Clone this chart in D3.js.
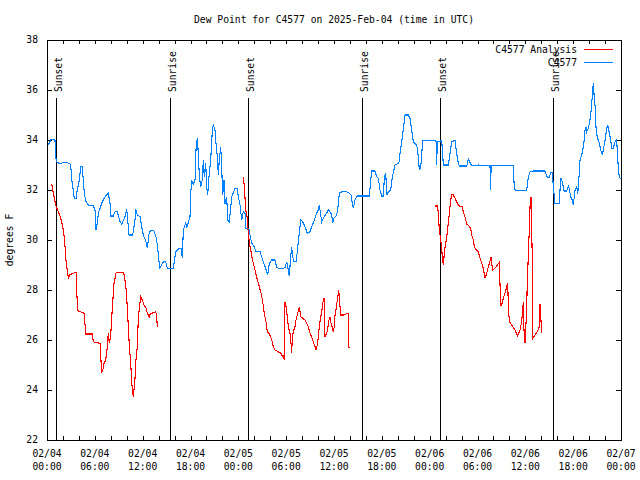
<!DOCTYPE html>
<html><head><meta charset="utf-8">
<script src="https://cdn.jsdelivr.net/npm/d3@7"></script>
<style>
body{margin:0;background:#fff;}
text{font-family:"DejaVu Sans Mono","Liberation Mono",monospace;font-size:9.7px;fill:#000;}
</style></head>
<body><svg id="c" width="640" height="480"></svg>
<script>
const title = "Dew Point for C4577 on 2025-Feb-04 (time in UTC)";
const yLabel = "degrees F";
const seriesNames = ["C4577 Analysis", "C4577"];
const seriesColors = ["#ff0000", "#0080ff"];
// hours since 02/04 00:00 UTC
const blueHours = [0.16,0.50,1.00,1.09,1.22,1.63,2.04,2.47,2.97,3.10,3.30,3.42,3.64,3.73,4.05,4.23,4.43,4.55,4.68,4.85,5.18,5.81,6.02,6.15,6.31,6.44,6.65,6.86,7.06,7.28,7.69,7.90,8.03,8.32,8.53,8.82,9.16,9.37,9.78,10.00,10.12,10.29,10.75,11.04,11.13,11.33,11.67,11.88,12.08,12.42,12.58,12.71,12.83,13.05,13.42,13.67,13.84,14.05,14.17,14.59,14.89,15.09,15.84,16.14,16.56,16.81,16.97,17.10,17.40,17.52,17.94,18.03,18.15,18.35,18.57,18.69,18.85,18.98,19.10,19.28,19.48,19.61,19.73,19.91,20.03,20.16,20.32,20.53,20.74,20.86,21.07,21.20,21.36,21.49,21.61,21.79,21.91,22.04,22.20,22.33,22.54,22.67,22.87,23.04,23.17,23.58,23.87,24.00,24.21,24.42,24.62,24.84,24.96,25.13,25.38,25.46,25.68,25.97,26.22,26.72,27.06,27.35,27.56,27.68,27.89,28.19,28.60,28.81,29.01,29.64,29.85,30.07,30.27,30.39,30.57,30.69,30.82,30.98,31.23,31.40,31.52,31.65,31.82,32.07,32.36,32.65,32.99,33.20,33.53,33.83,34.03,34.16,34.33,34.46,34.75,35.09,35.29,35.50,35.71,35.84,36.00,36.34,36.54,36.67,36.97,37.59,37.92,38.13,38.30,38.42,38.64,38.92,40.43,40.61,40.73,41.14,41.36,41.56,41.77,41.98,42.19,42.31,42.49,42.61,42.81,43.11,43.32,43.65,44.07,44.19,44.28,44.49,44.69,44.91,45.32,45.53,45.75,45.95,46.38,46.58,46.70,46.88,47.13,48.67,48.80,48.88,48.96,49.51,49.64,49.71,50.34,50.55,50.77,51.18,51.39,51.59,51.72,52.65,52.85,53.06,53.27,54.10,55.57,55.66,55.70,58.49,58.62,58.92,60.17,60.38,60.59,61.00,62.47,62.76,63.01,63.18,63.35,63.43,63.51,63.64,63.72,64.26,64.35,64.48,64.64,64.85,65.19,65.39,65.52,65.69,65.89,66.02,66.23,66.45,66.57,66.73,66.86,67.07,67.20,67.36,67.49,67.61,67.70,67.90,68.11,68.24,68.36,68.45,68.53,68.62,68.74,68.87,69.03,69.24,69.46,69.66,69.78,70.00,70.21,70.33,70.50,70.71,70.84,71.04,71.25,71.46,71.59,71.71,71.88,72.00];
const blueValues = [33.8,34.03,34.0,33.33,33.13,33.04,33.1,33.1,33.03,32.4,32.0,31.67,31.64,31.87,32.4,32.93,32.93,32.4,31.87,31.57,31.4,31.36,31.2,30.4,30.67,31.07,31.27,31.47,31.6,31.73,31.87,31.47,30.96,30.96,31.13,31.13,30.73,30.64,30.93,31.23,30.8,30.2,30.2,30.8,31.23,31.0,30.93,30.53,30.2,29.93,29.67,30.0,30.33,30.37,30.37,30.13,29.8,29.13,28.87,29.13,29.13,28.87,28.87,29.53,29.67,29.67,29.27,30.4,30.67,30.47,30.93,31.87,32.4,32.24,32.4,33.6,34.07,33.47,32.6,32.13,32.4,33.2,32.53,33.07,32.13,31.8,32.53,33.2,34.4,34.6,34.4,33.87,33.33,32.6,33.2,33.73,32.93,31.8,32.4,31.44,31.73,30.8,30.73,31.27,31.73,32.07,32.07,31.73,31.4,30.8,31.13,31.07,30.47,30.47,30.4,30.2,29.87,29.73,29.53,29.53,29.2,28.93,28.73,28.6,29.07,29.2,29.2,28.9,28.87,28.87,28.9,29.13,28.8,28.56,29.33,29.73,29.33,29.13,29.13,29.53,29.93,30.27,30.8,30.73,30.53,30.27,30.33,30.53,30.8,31.07,31.2,31.4,31.0,30.73,30.93,31.07,31.2,31.13,31.0,30.67,30.87,31.0,31.4,31.87,31.93,31.93,31.87,31.8,31.47,31.27,31.6,31.76,31.76,32.4,32.76,32.76,32.53,32.47,32.0,31.76,31.76,32.47,32.69,31.8,31.93,32.0,32.53,33.0,33.07,33.13,33.47,33.93,34.4,35.0,35.0,34.87,34.4,33.93,33.8,33.33,32.8,32.93,33.97,33.97,33.93,33.0,33.93,33.97,33.4,33.0,33.0,33.47,33.95,33.97,33.47,33.07,32.96,32.96,33.23,33.1,32.97,33.0,32.97,32.0,32.97,32.99,32.03,31.97,32.0,32.53,32.73,32.76,32.76,32.5,32.5,32.69,32.69,32.53,32.13,31.73,31.47,31.47,32.0,32.47,32.33,31.96,31.96,32.16,32.03,31.73,31.6,31.4,31.97,32.16,31.84,32.53,33.2,33.4,33.6,33.93,34.4,34.53,34.33,34.47,34.8,35.13,35.6,36.0,36.27,35.8,35.4,34.47,34.07,33.93,33.6,33.4,33.6,34.0,34.47,34.6,34.33,34.0,33.67,33.67,33.93,34.0,33.27,32.67,32.47,32.47];
const redHours = [0.59,0.79,1.09,1.42,1.63,1.84,1.97,2.13,2.26,2.38,2.47,2.60,2.67,2.89,3.30,3.64,3.73,3.85,4.14,4.43,4.68,4.77,4.85,5.68,5.81,6.15,6.65,6.74,6.86,6.99,7.15,7.36,7.49,7.61,7.69,7.81,7.90,8.03,8.12,8.24,8.40,8.53,8.66,9.57,9.70,9.91,10.07,10.20,10.32,10.50,10.62,10.75,10.83,10.95,11.04,11.16,11.33,11.45,11.58,11.75,11.95,12.17,12.42,12.58,12.83,12.92,13.33,13.64,13.76,13.84,
 19.0,
 24.62,24.71,24.84,24.96,25.13,25.25,25.38,25.55,25.80,26.09,26.31,26.51,26.63,26.85,27.06,27.22,27.47,27.64,27.89,28.19,28.39,28.60,29.01,29.32,29.57,29.73,29.85,29.98,30.14,30.27,30.48,30.61,30.69,30.77,30.90,31.11,31.23,31.45,31.65,31.82,32.07,32.36,32.58,32.78,32.99,33.20,33.40,33.62,33.74,33.91,34.03,34.16,34.33,34.46,34.58,34.75,34.87,35.09,35.21,35.37,35.50,35.63,35.75,35.91,36.04,36.13,36.25,36.34,36.47,36.59,36.72,36.84,37.17,37.80,37.88,
 43.0,
 48.67,48.96,49.09,49.21,49.39,49.51,49.64,49.71,49.80,49.93,50.05,50.22,50.34,50.47,50.64,50.77,50.97,51.18,51.39,51.59,51.90,52.10,52.22,52.43,52.65,52.94,53.15,53.27,53.48,53.60,53.78,54.10,54.32,54.53,54.73,54.94,55.16,55.36,55.57,55.70,55.78,55.91,56.07,56.41,56.70,56.82,56.91,57.04,57.24,57.45,57.66,57.79,57.86,57.99,58.29,58.70,59.04,59.33,59.54,59.75,59.83,59.96,60.05,60.17,60.25,60.38,60.50,60.59,60.71,60.80,60.88,60.93,61.22,61.50,61.76,61.84,61.93,62.06];
const redValues = [32.24,31.87,31.4,31.13,30.96,30.73,30.53,30.2,29.73,29.2,28.93,28.67,28.47,28.62,28.67,28.7,27.93,27.17,27.13,27.1,27.07,26.6,26.24,26.24,25.93,25.89,25.87,25.33,24.73,24.77,25.07,25.2,25.47,25.93,26.27,25.87,26.0,26.4,26.93,27.47,28.27,28.47,28.69,28.69,28.6,28.07,27.33,26.53,25.8,25.07,24.33,23.89,23.73,24.13,24.47,25.2,25.73,26.87,27.27,27.73,27.6,27.4,27.27,27.07,26.93,27.03,27.09,27.13,26.93,26.51,
 null,
 32.5,32.27,31.67,31.13,30.87,30.27,29.9,29.6,29.17,28.8,28.5,28.27,28.13,27.87,27.53,27.13,26.73,26.33,26.24,26.0,25.73,25.6,25.53,25.47,25.33,25.27,27.53,27.33,26.93,26.53,26.27,25.87,25.47,26.13,26.33,26.53,26.8,27.07,27.33,26.93,26.87,26.8,26.67,26.53,26.27,26.13,25.93,25.73,25.6,25.8,26.13,26.53,26.93,27.13,27.47,27.67,26.13,26.27,26.47,26.8,26.93,26.67,26.53,26.33,26.53,27.0,27.2,27.47,27.67,28.0,27.47,27.0,27.0,27.07,25.67,
 null,
 31.36,31.36,31.07,30.4,30.0,29.6,29.2,29.0,29.33,29.73,29.93,30.33,30.67,31.07,31.6,31.83,31.8,31.67,31.53,31.4,31.33,31.33,31.13,30.93,30.64,30.56,30.47,30.2,30.0,29.73,29.63,29.53,29.27,29.07,28.87,28.47,28.67,28.93,29.16,29.33,29.07,28.8,28.83,28.96,29.09,28.27,27.4,27.4,27.67,27.87,28.13,28.27,27.47,26.73,26.6,26.4,26.16,26.4,26.73,27.53,26.4,25.87,26.4,27.33,28.4,29.4,30.47,31.33,31.7,30.53,29.0,26.07,26.2,26.33,26.53,27.44,26.93,26.27];
const sunHours = [1.13, 15.43, 25.21, 39.51, 49.30, 63.47];
const sunLabels = ["Sunset","Sunrise","Sunset","Sunrise","Sunset","Sunrise"];
const xTickHours = [0,6,12,18,24,30,36,42,48,54,60,66,72];
const xTickDates = ["02/04","02/04","02/04","02/04","02/05","02/05","02/05","02/05","02/06","02/06","02/06","02/06","02/07"];
const xTickTimes = ["00:00","06:00","12:00","18:00","00:00","06:00","12:00","18:00","00:00","06:00","12:00","18:00","00:00"];
const yTicks = [22,24,26,28,30,32,34,36,38];

const svg = d3.select("#c");
const L=47, R=621, T=40, B=440;
const x = d3.scaleLinear().domain([0,72]).range([L,R]);
const y = d3.scaleLinear().domain([22,38]).range([B,T]);

svg.append("text").attr("x",(L+R)/2).attr("y",23).attr("text-anchor","middle").text(title);

// axes
const minor = d3.range(0,73,2);
svg.append("g").attr("transform",`translate(0,${B})`)
  .call(d3.axisTop(x).tickValues(minor).tickSize(4).tickFormat(""))
  .call(g=>g.select(".domain").remove());
svg.append("g").attr("transform",`translate(0,${T})`)
  .call(d3.axisBottom(x).tickValues(minor).tickSize(4).tickFormat(""))
  .call(g=>g.select(".domain").remove());
svg.append("g").attr("transform",`translate(${L},0)`)
  .call(d3.axisRight(y).tickValues(yTicks).tickSize(5).tickFormat(""))
  .call(g=>g.select(".domain").remove());
svg.append("g").attr("transform",`translate(${R},0)`)
  .call(d3.axisLeft(y).tickValues(yTicks).tickSize(5).tickFormat(""))
  .call(g=>g.select(".domain").remove());
svg.selectAll(".tick line").attr("stroke","#000").attr("shape-rendering","crispEdges");

svg.append("g").selectAll("text").data(yTicks).join("text")
  .attr("x",L-9).attr("y",d=>y(d)).attr("dy","0.35em").attr("text-anchor","end").text(d=>d);

const xl = svg.append("g").selectAll("text").data(xTickHours).join("text")
  .attr("text-anchor","middle");
xl.append("tspan").attr("x",d=>x(d)).attr("y",457).text((d,i)=>xTickDates[i]);
xl.append("tspan").attr("x",d=>x(d)).attr("y",470).text((d,i)=>xTickTimes[i]);

svg.append("text").attr("transform","translate(13,240) rotate(-90)").attr("text-anchor","middle").text(yLabel);

// sun lines
sunHours.forEach((h,i)=>{
  svg.append("line").attr("x1",Math.round(x(h))+0.5).attr("x2",Math.round(x(h))+0.5)
    .attr("y1",98).attr("y2",B).attr("stroke","#000").attr("stroke-width",1);
  svg.append("text").attr("transform",`translate(${Math.round(x(h))+5.5},92) rotate(-90)`)
    .attr("text-anchor","start").text(sunLabels[i]);
});

// series
const redData = redHours.map((h,i)=>[h,redValues[i]]);
const blueData = blueHours.map((h,i)=>[h,blueValues[i]]);
const line = d3.line().defined(d=>d[1]!==null).x(d=>x(d[0])).y(d=>y(d[1]));
svg.append("path").datum(redData).attr("d",line).attr("fill","none").attr("stroke",seriesColors[0]).attr("stroke-width",1.1).attr("shape-rendering","crispEdges");
svg.append("path").datum(blueData).attr("d",line).attr("fill","none").attr("stroke",seriesColors[1]).attr("stroke-width",1.1).attr("shape-rendering","crispEdges");

// frame
svg.append("rect").attr("x",L+0.5).attr("y",T+0.5).attr("width",R-L).attr("height",B-T)
  .attr("fill","none").attr("stroke","#000").attr("shape-rendering","crispEdges");

// legend
seriesNames.forEach((n,i)=>{
  const ly = 50 + i*13;
  svg.append("text").attr("x",577).attr("y",ly).attr("dy","0.35em").attr("text-anchor","end").text(n);
  svg.append("line").attr("x1",584).attr("x2",613).attr("y1",ly-0.5).attr("y2",ly-0.5)
    .attr("stroke",seriesColors[i]).attr("shape-rendering","crispEdges");
});
</script></body></html>
